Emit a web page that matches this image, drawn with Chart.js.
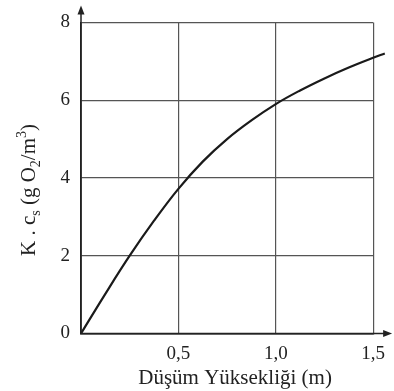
<!DOCTYPE html>
<html>
<head>
<meta charset="utf-8">
<script src="https://cdn.jsdelivr.net/npm/chart.js@4/dist/chart.umd.min.js"></script>
<style>
  html, body { margin: 0; padding: 0; background: #fff; }
  #wrap { width: 394px; height: 391px; position: relative; }
</style>
</head>
<body>
<div id="wrap"><canvas id="c" width="394" height="391"></canvas></div>
<script>
// Data
const heights = [0, 0.125, 0.25, 0.375, 0.5, 0.625, 0.75, 0.875, 1.0, 1.125, 1.25, 1.375, 1.5, 1.56];
const kcValues = [0, 1.02, 2.0, 2.9, 3.72, 4.42, 5.0, 5.48, 5.9, 6.25, 6.56, 6.84, 7.09, 7.2];
const xTicks = [0.5, 1.0, 1.5];
const yTicks = [0, 2, 4, 6, 8];
const xTitle = 'Düşüm Yüksekliği (m)';
const yTitleParts = [
  { t: 'K . c', k: 'n' }, { t: 's', k: 'sub' }, { t: ' (g O', k: 'n' },
  { t: '2', k: 'sub' }, { t: '/m', k: 'n' }, { t: '3', k: 'sup' }, { t: ')', k: 'n' }
];

const FONT = "'Liberation Serif', 'Times New Roman', serif";
const INK = '#222';

const points = heights.map((x, i) => ({ x, y: kcValues[i] }));

const decorPlugin = {
  id: 'decor',
  afterDraw(chart) {
    const ctx = chart.ctx;
    const xs = chart.scales.x, ys = chart.scales.y;
    const x0 = xs.getPixelForValue(0), y0 = ys.getPixelForValue(0);
    const a = chart.chartArea;
    ctx.save();
    ctx.strokeStyle = INK; ctx.fillStyle = INK; ctx.lineWidth = 1.5;
    // y axis extension with arrow
    const yTip = a.top - 17;
    ctx.beginPath(); ctx.moveTo(x0, y0); ctx.lineTo(x0, yTip + 4); ctx.stroke();
    ctx.beginPath(); ctx.moveTo(x0, yTip); ctx.lineTo(x0 - 3.5, yTip + 9); ctx.lineTo(x0 + 3.5, yTip + 9); ctx.closePath(); ctx.fill();
    // x axis extension with arrow
    const xTip = a.right + 19;
    ctx.beginPath(); ctx.moveTo(x0, y0); ctx.lineTo(xTip - 4, y0); ctx.stroke();
    ctx.beginPath(); ctx.moveTo(xTip, y0); ctx.lineTo(xTip - 9, y0 - 3.5); ctx.lineTo(xTip - 9, y0 + 3.5); ctx.closePath(); ctx.fill();

    // x title
    ctx.font = '21px ' + FONT;
    ctx.textAlign = 'center'; ctx.textBaseline = 'middle';
    ctx.fillText(xTitle, (a.left + a.right) / 2 + 8, a.bottom + 45);

    // y title with subscripts / superscripts
    const sizes = { n: 21, sub: 14, sup: 14 };
    const offs = { n: 0, sub: 5, sup: -9 };
    let total = 0;
    const widths = yTitleParts.map(p => {
      ctx.font = sizes[p.k] + 'px ' + FONT;
      const w = ctx.measureText(p.t).width;
      total += w; return w;
    });
    ctx.translate(28, 190);
    ctx.rotate(-Math.PI / 2);
    ctx.textAlign = 'left'; ctx.textBaseline = 'alphabetic';
    let cx = -total / 2;
    yTitleParts.forEach((p, i) => {
      ctx.font = sizes[p.k] + 'px ' + FONT;
      ctx.fillText(p.t, cx, 7 + offs[p.k]);
      cx += widths[i];
    });
    ctx.restore();
  }
};

new Chart(document.getElementById('c'), {
  type: 'scatter',
  data: {
    datasets: [{
      data: points,
      showLine: true,
      borderColor: '#1a1a1a',
      borderWidth: 2.2,
      pointRadius: 0,
      tension: 0.4,
      clip: false
    }]
  },
  options: {
    responsive: false,
    animation: false,
    devicePixelRatio: 1,
    layout: { padding: { left: 0, top: 22, right: 20, bottom: 0 } },
    plugins: { legend: { display: false }, tooltip: { enabled: false } },
    scales: {
      x: {
        type: 'linear', bounds: 'data',
        afterDataLimits: s => { s.min = 0; s.max = 1.5; },
        afterBuildTicks: s => { s.ticks = [0].concat(xTicks).map(v => ({ value: v })); },
        afterFit: s => { s.height = 57.5; },
        grid: { color: '#555', lineWidth: 1.2, drawTicks: false },
        border: { display: true, color: INK, width: 1.5 },
        ticks: {
          stepSize: 0.5,
          padding: 9,
          color: INK,
          font: { family: FONT, size: 19 },
          callback: v => v === 0 ? '' : v.toFixed(1).replace('.', ',')
        }
      },
      y: {
        type: 'linear', bounds: 'data',
        afterDataLimits: s => { s.min = 0; s.max = 8; },
        afterBuildTicks: s => { s.ticks = yTicks.map(v => ({ value: v })); },
        afterFit: s => { s.width = 81; },
        grid: { color: '#555', lineWidth: 1.2, drawTicks: false },
        border: { display: true, color: INK, width: 1.5 },
        ticks: {
          stepSize: 2,
          padding: 11,
          color: INK,
          font: { family: FONT, size: 19 },
          callback: v => String(v)
        }
      }
    }
  },
  plugins: [decorPlugin]
});
</script>
</body>
</html>
